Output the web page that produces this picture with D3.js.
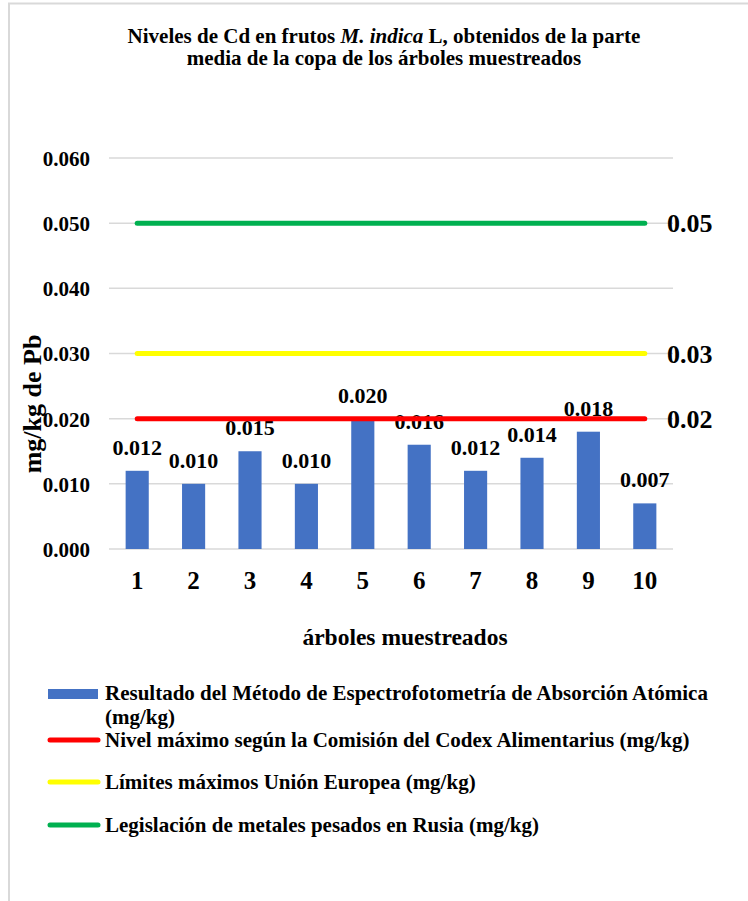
<!DOCTYPE html>
<html>
<head>
<meta charset="utf-8">
<script src="https://cdn.jsdelivr.net/npm/d3@7"></script>
<style>
  html, body { margin: 0; padding: 0; background: #ffffff; }
  svg { display: block; }
  text { font-family: "Liberation Serif", "Times New Roman", serif; font-weight: bold; fill: #000; }
</style>
</head>
<body>
<svg id="chart" width="748" height="901"></svg>
<script>
// ---- data ----
const categories = ["1", "2", "3", "4", "5", "6", "7", "8", "9", "10"];
const cdValues = [0.012, 0.010, 0.015, 0.010, 0.020, 0.016, 0.012, 0.014, 0.018, 0.007];
const yTicks = [0, 0.01, 0.02, 0.03, 0.04, 0.05, 0.06];
const limitNames = [
  "Nivel máximo según la Comisión del Codex Alimentarius (mg/kg)",
  "Límites máximos Unión Europea (mg/kg)",
  "Legislación de metales pesados en Rusia (mg/kg)"
];
const limitValues = [0.02, 0.03, 0.05];
const limitLabels = ["0.02", "0.03", "0.05"];
const limitColors = ["#ff0000", "#ffff00", "#00b050"];
const barName = ["Resultado del Método de Espectrofotometría de Absorción Atómica", "(mg/kg)"];
const barColor = "#4472c4";

const svg = d3.select("#chart");

// outer border (chart area frame)
svg.append("rect").attr("x", 9).attr("y", 3.5).attr("width", 780).attr("height", 940)
  .attr("fill", "none").attr("stroke", "#d9d9d9").attr("stroke-width", 2);

// scales
const x = d3.scaleBand().domain(categories).range([109, 673]).padding(0);
const y = d3.scaleLinear().domain([0, 0.06]).range([549, 158]);
const barW = x.bandwidth() * 0.41;
const cx = c => x(c) + x.bandwidth() / 2;

// gridlines
svg.append("g").selectAll("line").data(yTicks).join("line")
  .attr("x1", 109).attr("x2", 673)
  .attr("y1", d => y(d)).attr("y2", d => y(d))
  .attr("stroke", "#d9d9d9").attr("stroke-width", 1.5);

// y axis labels
const yAxis = d3.axisLeft(y).tickValues(yTicks).tickFormat(d3.format(".3f")).tickSize(0).tickPadding(0);
const gy = svg.append("g").attr("transform", "translate(90,0)").call(yAxis);
gy.attr("font-family", null);
gy.select(".domain").remove();
gy.selectAll("text").attr("font-size", 21).attr("dy", "0.35em");

// x axis labels
const xAxis = d3.axisBottom(x).tickSize(0).tickPadding(0);
const gx = svg.append("g").attr("transform", "translate(0,571)").call(xAxis);
gx.attr("font-family", null);
gx.select(".domain").remove();
gx.selectAll("text").attr("font-size", 25).attr("dy", "0.71em");

// bars
svg.append("g").selectAll("rect").data(categories).join("rect")
  .attr("x", (c) => cx(c) - barW / 2)
  .attr("width", barW)
  .attr("y", (c, i) => y(cdValues[i]))
  .attr("height", (c, i) => y(0) - y(cdValues[i]))
  .attr("fill", barColor);

// bar labels
svg.append("g").selectAll("text").data(categories).join("text")
  .attr("x", c => cx(c))
  .attr("y", (c, i) => y(cdValues[i]) - 16)
  .attr("text-anchor", "middle")
  .attr("font-size", 22)
  .text((c, i) => d3.format(".3f")(cdValues[i]));

// limit lines
limitValues.forEach((v, i) => {
  svg.append("line")
    .attr("x1", cx(categories[0])).attr("x2", cx(categories[categories.length - 1]))
    .attr("y1", y(v)).attr("y2", y(v))
    .attr("stroke", limitColors[i]).attr("stroke-width", 5).attr("stroke-linecap", "round");
  svg.append("text")
    .attr("x", 667).attr("y", y(v)).attr("dy", "0.35em")
    .attr("font-size", 26)
    .text(limitLabels[i]);
});

// title
const title = svg.append("text").attr("x", 384).attr("y", 43).attr("text-anchor", "middle").attr("font-size", 21);
title.append("tspan").text("Niveles de Cd en frutos ");
title.append("tspan").attr("font-style", "italic").text("M. indica");
title.append("tspan").text(" L, obtenidos de la parte");
svg.append("text").attr("x", 384).attr("y", 65).attr("text-anchor", "middle").attr("font-size", 21)
  .text("media de la copa de los árboles muestreados");

// axis titles
svg.append("text").attr("x", 405).attr("y", 645).attr("text-anchor", "middle").attr("font-size", 23.5)
  .text("árboles muestreados");
svg.append("text").attr("transform", "translate(41,404) rotate(-90)").attr("text-anchor", "middle").attr("font-size", 26)
  .text("mg/kg de Pb");

// legend
const lg = svg.append("g");
lg.append("rect").attr("x", 48).attr("y", 689).attr("width", 50).attr("height", 10).attr("fill", barColor);
lg.append("text").attr("x", 105).attr("y", 700).attr("font-size", 21).text(barName[0]);
lg.append("text").attr("x", 105).attr("y", 723.5).attr("font-size", 21).text(barName[1]);
const legY = [740, 782, 825];
limitNames.forEach((n, i) => {
  lg.append("line").attr("x1", 50).attr("x2", 98).attr("y1", legY[i]).attr("y2", legY[i])
    .attr("stroke", limitColors[i]).attr("stroke-width", 5).attr("stroke-linecap", "round");
  lg.append("text").attr("x", 105).attr("y", legY[i] + 7).attr("font-size", 21).text(n);
});
</script>
</body>
</html>
